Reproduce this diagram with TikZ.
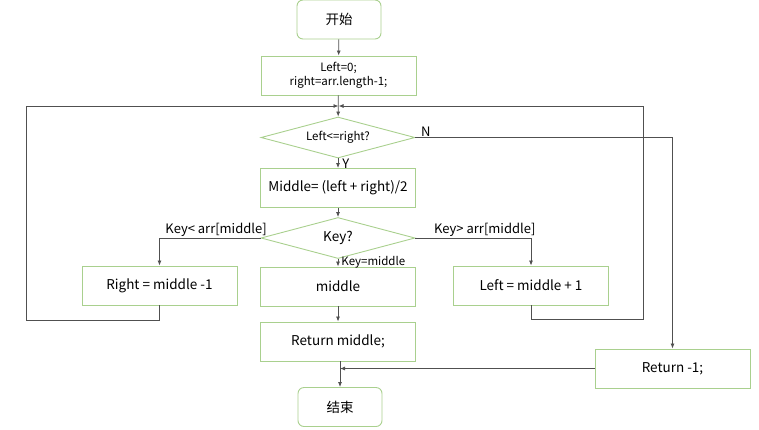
\documentclass[tikz,border=0pt]{standalone}
\usepackage{fontspec}
\setmainfont{Noto Sans CJK SC}
\usepackage{tikz}
\usetikzlibrary{shapes.geometric}
\usetikzlibrary{arrows.meta}
\usetikzlibrary{positioning}
\definecolor{boxgreen}{RGB}{169,208,142}
\definecolor{linegray}{RGB}{80,80,80}
\tikzstyle{terminal}=[draw=boxgreen, line width=0.9pt, rounded corners=6pt, minimum width=84pt, minimum height=39pt, font=\fontsize{13.5}{15}\selectfont]
\tikzstyle{process}=[draw=boxgreen, line width=0.9pt, minimum width=155pt, minimum height=39pt, align=center, font=\fontsize{13.5}{15}\selectfont]
\tikzstyle{decision}=[draw=boxgreen, line width=0.9pt, diamond, aspect=4, inner sep=0pt, minimum width=154pt, minimum height=41pt, font=\fontsize{13.5}{15}\selectfont]
\tikzstyle{flow}=[draw=linegray, line width=0.8pt, -{Latex[length=5pt,width=4pt]}]
\tikzstyle{branch}=[font=\fontsize{13}{15}\selectfont, inner sep=1pt]

\begin{document}
\begin{tikzpicture}[x=1pt, y=-1pt]
          \useasboundingbox (0,0) rectangle (759,429);
          \node[terminal] (start) at (339,19.5){开始};
          \node[process, font=\fontsize{11.5}{14}\selectfont] (init) at (338.5,75.5){Left=0;\\right=arr.length-1;};
          \node[decision, font=\fontsize{11.5}{14}\selectfont] (cond) at (338,137.5){Left<=right?};
          \node[process] (mid) at (338,188){Middle= (left + right)/2};
          \node[decision] (key) at (338,238){Key?};
          \node[process] (rset) at (159.5,285.5){Right = middle -1};
          \node[process] (found) at (338,286.5){middle};
          \node[process] (lset) at (531,285.5){Left = middle + 1};
          \node[process] (retmid) at (338,341.5){Return middle;};
          \node[process] (retneg) at (672.5,368.5){Return -1;};
          \node[terminal] (stop) at (340,407){结束};
          \coordinate (join) at (338.5,106);
          \coordinate (lcorner) at (26,320);
          \coordinate (ltop) at (26,106);
          \coordinate (rcorner) at (643,319);
          \coordinate (rtop) at (643,106);
          \draw[flow](start) -- (init);
          \draw[flow](init) -- (cond);
          \draw[flow](rset.south) |- (lcorner) -- (ltop) -- (join);
          \draw[flow](lset.south) |- (rcorner) -- (rtop) -- (join);
          \draw[flow](cond.east) -| (retneg.north) node[pos=0.02, above, branch]{N};
          \draw[flow](cond.south) -- (mid.north) node[midway, right, branch, xshift=3pt]{Y};
          \draw[flow](mid) -- (key);
          \draw[flow](key.west) -| (rset.north) node[pos=0.22, above, branch]{Key< arr[middle]};
          \draw[flow](key.east) -| (lset.north) node[pos=0.3, above, branch]{Key> arr[middle]};
          \draw[flow](key.south) -- (found.north) node[midway, right, branch, xshift=2pt, font=\fontsize{11.5}{13}\selectfont]{Key=middle};
          \draw[flow](found) -- (retmid);
          \draw[flow](retmid.south -| stop.north) -- (stop.north);
          \draw[flow](retneg.west) -- (retneg.west -| stop.north);
        \end{tikzpicture}
\end{document}
